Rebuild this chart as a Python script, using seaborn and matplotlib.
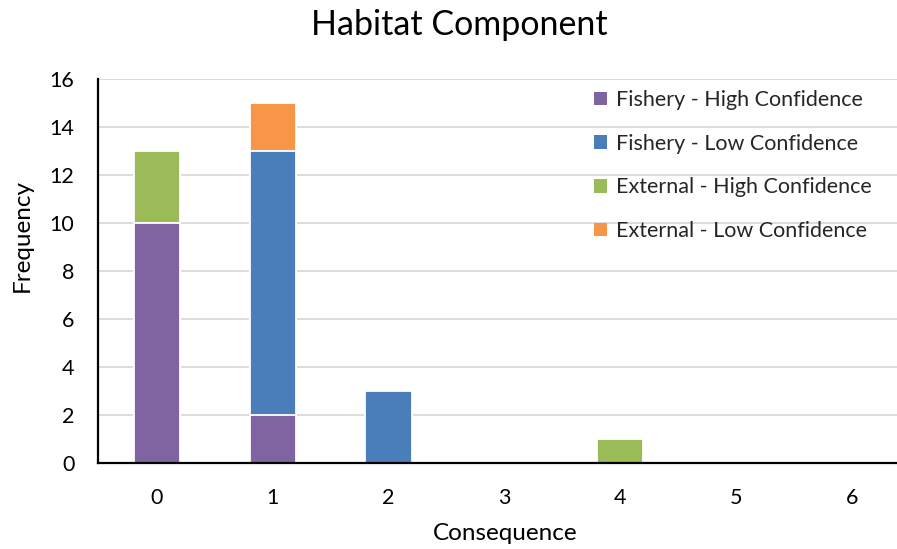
import matplotlib
matplotlib.use("Agg")
import matplotlib.pyplot as plt
from matplotlib.patches import Patch
import numpy as np
import pandas as pd
import seaborn as sns

consequence = ["0", "1", "2", "3", "4", "5", "6"]
fishery_high = [10, 2, 0, 0, 0, 0, 0]
fishery_low = [0, 11, 3, 0, 0, 0, 0]
external_high = [3, 0, 0, 0, 1, 0, 0]
external_low = [0, 2, 0, 0, 0, 0, 0]

series_names = [
    "Fishery - High Confidence",
    "Fishery - Low Confidence",
    "External - High Confidence",
    "External - Low Confidence",
]
series_colors = ["#8064A2", "#4A7EBB", "#9BBB59", "#F79646"]

sns.set_theme(style="white")
plt.rcParams["font.family"] = ["Lato", "DejaVu Sans"]

fig = plt.figure(figsize=(8.97, 5.49), dpi=100)
ax = fig.add_axes([98 / 897, 1 - 463 / 549, (897 - 98) / 897, (463 - 79) / 549])

df = pd.DataFrame({
    "Consequence": consequence,
    series_names[0]: fishery_high,
    series_names[1]: fishery_low,
    series_names[2]: external_high,
    series_names[3]: external_low,
})

# stacked bars: draw cumulative totals from the top layer down
cum = df[series_names].cumsum(axis=1)
for name, color in reversed(list(zip(series_names, series_colors))):
    sns.barplot(data=df.assign(total=cum[name]), x="Consequence", y="total",
                order=consequence, color=color, width=0.4, saturation=1,
                edgecolor="white", linewidth=1.3, ax=ax, zorder=3)

ax.set_xlim(-0.51, 6.39)
ax.set_ylim(0, 16)
ax.set_yticks(np.arange(0, 17, 2))
ax.yaxis.grid(True, color="#D9D9D9", linewidth=1.3, zorder=0)
ax.set_axisbelow(True)
for side in ["top", "right"]:
    ax.spines[side].set_visible(False)
for side in ["left", "bottom"]:
    ax.spines[side].set_color("black")
    ax.spines[side].set_linewidth(1.6)
    ax.spines[side].set_zorder(5)
ax.tick_params(axis="both", length=0, labelsize=15.5, colors="black")
ax.tick_params(axis="x", pad=18)
ax.tick_params(axis="y", pad=17)

ax.set_xlabel("Consequence", fontsize=17.5, color="black")
ax.set_ylabel("Frequency", fontsize=17.5, color="black")
ax.xaxis.set_label_coords(505 / 897, 1 - 533 / 549, transform=fig.transFigure)
ax.yaxis.set_label_coords(22 / 897, 1 - 236 / 549, transform=fig.transFigure)
ax.xaxis.label.set_va("center")
ax.yaxis.label.set_va("center")
fig.text(459 / 897, 1 - 25 / 549, "Habitat Component", fontsize=24.5,
         ha="center", va="center", color="black")

handles = [Patch(facecolor=c, edgecolor="none") for c in series_colors]
leg = ax.legend(handles, series_names, loc="upper left",
                bbox_to_anchor=(594 / 897, 1 - 90 / 549), bbox_transform=fig.transFigure,
                frameon=False, fontsize=15.5, handlelength=0.6, handleheight=0.6,
                handletextpad=0.4, labelspacing=1.1, borderaxespad=0, borderpad=0)

fig.savefig("out.png", dpi=100)
